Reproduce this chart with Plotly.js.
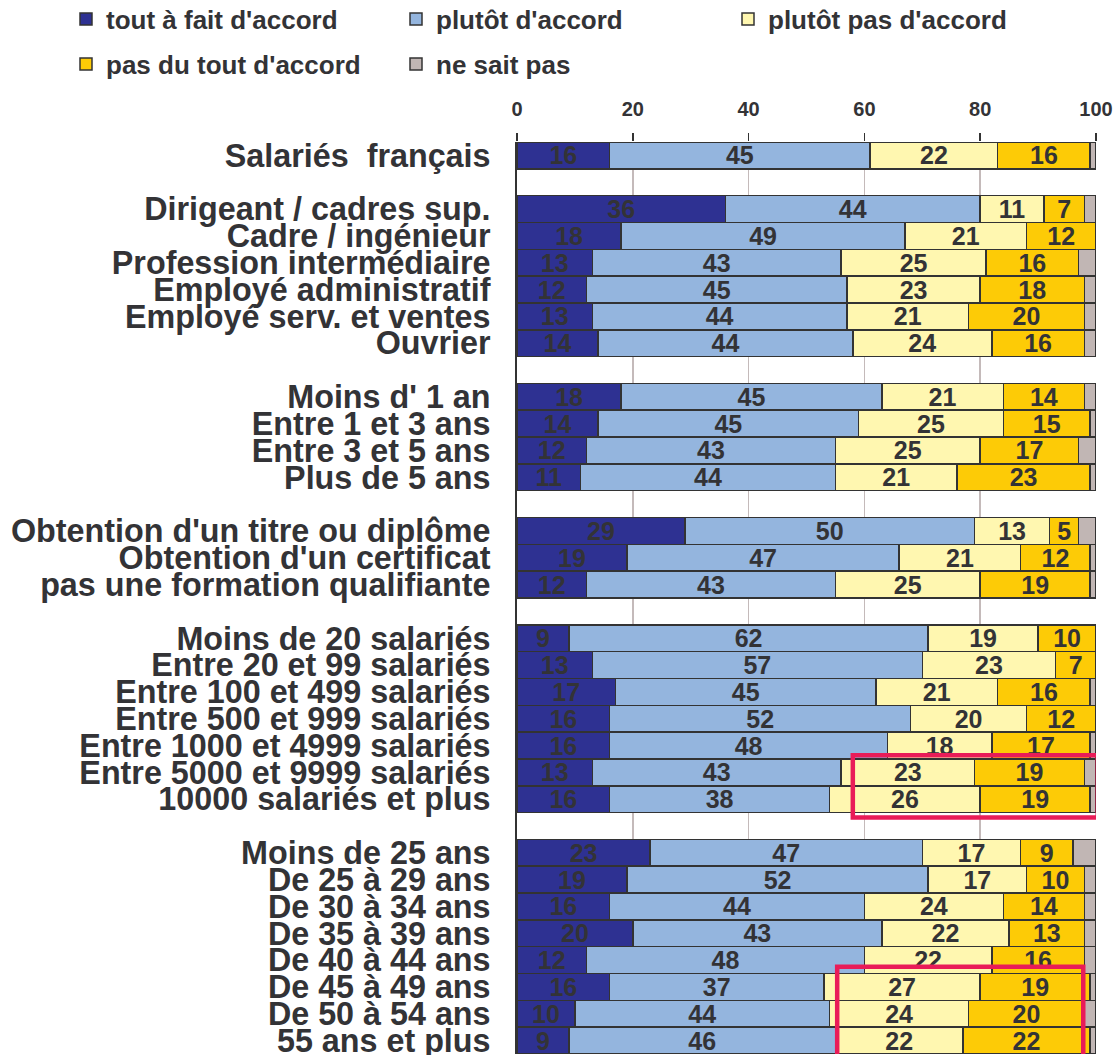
<!DOCTYPE html>
<html>
<head>
<meta charset="utf-8">
<script src="https://cdn.plot.ly/plotly-3.0.1.min.js"></script>
<style>html,body{margin:0;padding:0;background:#fff;}#chart{width:1115px;height:1055px;}</style>
</head>
<body>
<div id="chart"></div>
<script>
// Rows top to bottom; "" marks a blank separator row between groups
const categories = [
  "Salariés  français", "",
  "Dirigeant / cadres sup.", "Cadre / ingénieur", "Profession intermédiaire",
  "Employé administratif", "Employé serv. et ventes", "Ouvrier", "",
  "Moins d' 1 an", "Entre 1 et 3 ans", "Entre 3 et 5 ans", "Plus de 5 ans", "",
  "Obtention d'un titre ou diplôme", "Obtention d'un certificat", "pas une formation qualifiante", "",
  "Moins de 20 salariés", "Entre 20 et 99 salariés", "Entre 100 et 499 salariés",
  "Entre 500 et 999 salariés", "Entre 1000 et 4999 salariés", "Entre 5000 et 9999 salariés",
  "10000 salariés et plus", "",
  "Moins de 25 ans", "De 25 à 29 ans", "De 30 à 34 ans", "De 35 à 39 ans",
  "De 40 à 44 ans", "De 45 à 49 ans", "De 50 à 54 ans", "55 ans et plus"
];
const toutAFait   = [16, null, 36, 18, 13, 12, 13, 14, null, 18, 14, 12, 11, null, 29, 19, 12, null, 9, 13, 17, 16, 16, 13, 16, null, 23, 19, 16, 20, 12, 16, 10, 9];
const plutotDaccord = [45, null, 44, 49, 43, 45, 44, 44, null, 45, 45, 43, 44, null, 50, 47, 43, null, 62, 57, 45, 52, 48, 43, 38, null, 47, 52, 44, 43, 48, 37, 44, 46];
const plutotPas   = [22, null, 11, 21, 25, 23, 21, 24, null, 21, 25, 25, 21, null, 13, 21, 25, null, 19, 23, 21, 20, 18, 23, 26, null, 17, 17, 24, 22, 22, 27, 24, 22];
const pasDuTout   = [16, null, 7, 12, 16, 18, 20, 16, null, 14, 15, 17, 23, null, 5, 12, 19, null, 10, 7, 16, 12, 17, 19, 19, null, 9, 10, 14, 13, 16, 19, 20, 22];
const neSaitPas   = [1, null, 2, 0, 3, 2, 2, 2, null, 2, 1, 3, 1, null, 3, 1, 1, null, 0, 0, 1, 0, 1, 2, 1, null, 4, 2, 2, 2, 2, 1, 2, 1];
const seriesNames = ["tout à fait d'accord", "plutôt d'accord", "plutôt pas d'accord", "pas du tout d'accord", "ne sait pas"];
const xTicks = [0, 20, 40, 60, 80, 100];

const colors = ["#2e3192", "#94b5de", "#fff7b0", "#fdcb06", "#c1b6b4"];
const FONT = "Liberation Sans, Arial, Helvetica, sans-serif";
const TXT = "#333336";

const rowIdx = categories.map((c, i) => i);
const tickvals = rowIdx.filter(i => categories[i] !== "");
const ticktext = tickvals.map(i => categories[i]);

const legendIds = ["legend", "legend2", "legend3", "legend4", "legend5"];
// legend grid placement (pixels in the page)
const legendX = [66, 396, 728, 66, 396];
const legendY = [19, 19, 19, 64, 64];

const allSeries = [toutAFait, plutotDaccord, plutotPas, pasDuTout, neSaitPas];
const traces = allSeries.map((vals, k) => ({
  type: "bar",
  orientation: "h",
  name: seriesNames[k],
  x: vals,
  y: rowIdx,
  text: k < 4 ? vals.map(v => v == null ? "" : String(v)) : vals.map(() => ""),
  texttemplate: "%{text}",
  textposition: k < 4 ? "inside" : "none",
  insidetextanchor: "middle",
  textangle: 0,
  constraintext: "none",
  textfont: {family: FONT, size: 25, color: TXT, weight: "bold"},
  marker: {color: colors[k], line: {color: "#333", width: 1.5}},
  legend: legendIds[k],
  hoverinfo: "x+name"
}));

const layout = {
  width: 1115, height: 1055,
  margin: {l: 517, r: 19, t: 142, b: 1, pad: 0},
  paper_bgcolor: "#fff", plot_bgcolor: "#fff",
  barmode: "stack", bargap: 0,
  showlegend: true,
  uniformtext: {mode: "show", minsize: 25},
  xaxis: {
    range: [0, 100], side: "top",
    tickvals: xTicks, ticktext: xTicks.map(String),
    showgrid: true, gridcolor: "#c4baba", gridwidth: 1.5,
    zeroline: false, showline: false,
    ticks: "outside", ticklen: 8, tickwidth: 1.5, tickcolor: "#333",
    ticklabelstandoff: 9,
    tickfont: {family: FONT, size: 20, color: TXT, weight: "bold"},
    fixedrange: true
  },
  yaxis: {
    range: [categories.length - 0.5, -0.5],
    tickvals: tickvals, ticktext: ticktext,
    showgrid: false, zeroline: false,
    showline: true, linecolor: "#333", linewidth: 2,
    ticks: "", ticklabelstandoff: 18, ticklabeloverflow: "allow",
    tickfont: {family: FONT, size: 32.3, color: TXT, weight: "bold"},
    fixedrange: true
  },
  shapes: [
    {type: "rect", xref: "x", yref: "y", x0: 58, x1: 100.3,
     y0: categories.indexOf("Entre 5000 et 9999 salariés") - 0.64,
     y1: categories.indexOf("10000 salariés et plus") + 0.68,
     line: {color: "#e91c58", width: 4.5}, fillcolor: "rgba(0,0,0,0)"},
    {type: "rect", xref: "x", yref: "y", x0: 55.3, x1: 97.8,
     y0: categories.indexOf("De 45 à 49 ans") - 0.75,
     y1: categories.indexOf("55 ans et plus") + 0.9,
     line: {color: "#e91c58", width: 4.5}, fillcolor: "rgba(0,0,0,0)"}
  ]
};
legendIds.forEach((id, k) => {
  layout[id] = {
    orientation: "h",
    xref: "container", yref: "container",
    xanchor: "left", yanchor: "middle",
    x: legendX[k] / 1115, y: 1 - legendY[k] / 1055,
    bgcolor: "rgba(0,0,0,0)", borderwidth: 0,
    font: {family: FONT, size: 26, color: TXT, weight: "bold"}
  };
});

Plotly.newPlot("chart", traces, layout, {displayModeBar: false, staticPlot: true});
</script>
</body>
</html>
